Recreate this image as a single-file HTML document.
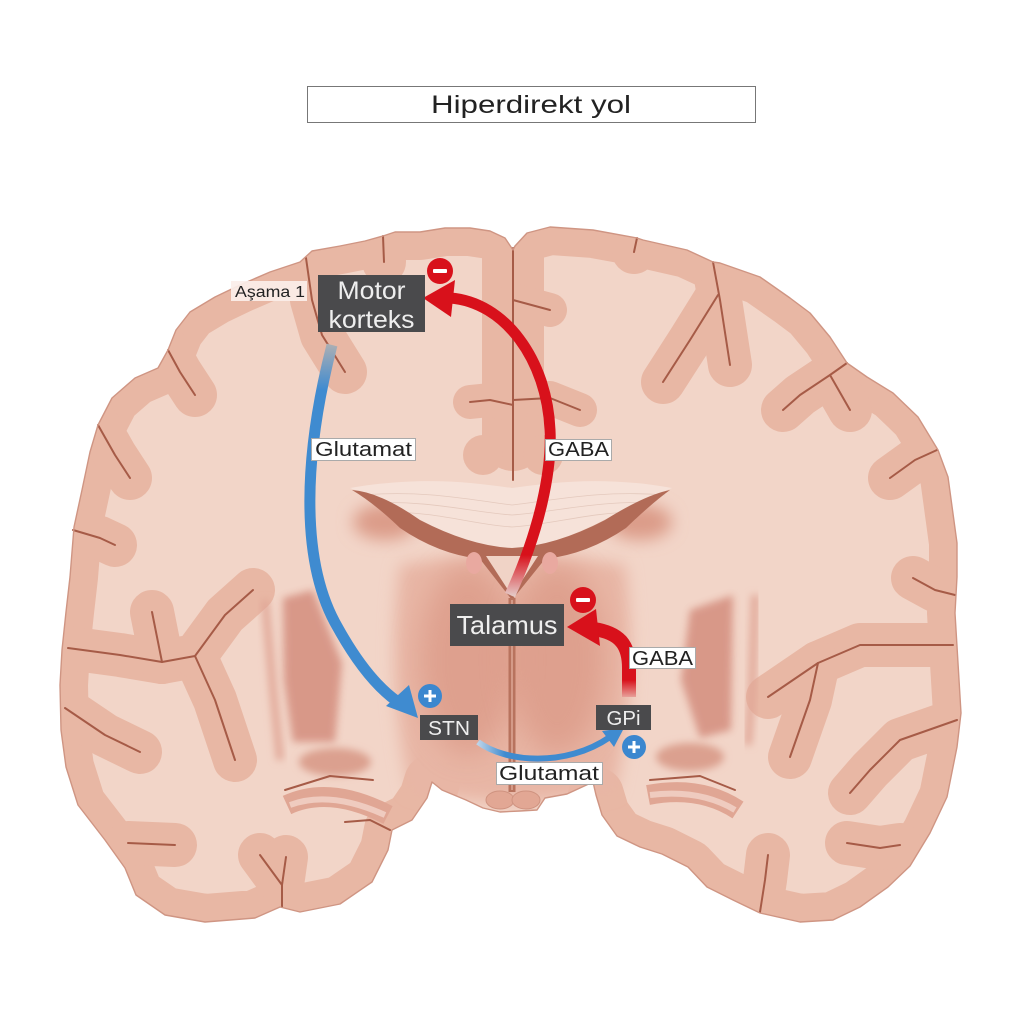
<!DOCTYPE html>
<html>
<head>
<meta charset="utf-8">
<style>
html,body{margin:0;padding:0;background:#fff;}
svg{display:block;}
text{font-family:"Liberation Sans",sans-serif;}
</style>
</head>
<body>
<svg width="1024" height="1024" viewBox="0 0 1024 1024" xmlns="http://www.w3.org/2000/svg">
<defs>
  <clipPath id="brain">
    <polygon id="outlineP" points="513,250 505,238 490,231 470,228 445,228 420,232 395,232 383,236 365,241 340,246 312,251 300,262 270,272 240,285 215,297 190,312 176,330 168,350 158,368 135,378 112,398 98,425 90,452 82,490 74,527 70,577 66,612 62,650 60,685 61,730 66,767 78,805 105,840 125,868 136,895 165,915 205,922 255,918 280,907 300,912 340,904 372,882 388,850 392,830 412,820 427,798 432,782 442,790 466,800 483,808 500,812 520,811 537,810 545,798 567,794 593,782 596,795 602,815 617,836 640,847 662,854 688,867 707,887 733,900 760,913 800,922 833,920 860,907 888,887 910,866 930,833 947,797 957,747 961,713 958,663 955,613 957,577 957,543 948,477 938,450 918,417 893,393 867,377 847,363 830,337 810,313 790,298 760,277 720,263 713,262 687,250 643,240 637,238 593,230 550,227 527,233 515,246"/>
  </clipPath>
  <filter id="b8" x="-50%" y="-50%" width="200%" height="200%"><feGaussianBlur stdDeviation="8"/></filter>
  <filter id="b4" x="-50%" y="-50%" width="200%" height="200%"><feGaussianBlur stdDeviation="4"/></filter>
  <filter id="b14" x="-50%" y="-50%" width="200%" height="200%"><feGaussianBlur stdDeviation="14"/></filter>
  <linearGradient id="redG" gradientUnits="userSpaceOnUse" x1="0" y1="600" x2="0" y2="555">
    <stop offset="0" stop-color="#e6dcd8"/>
    <stop offset="1" stop-color="#d8111b"/>
  </linearGradient>
  <linearGradient id="redG2" gradientUnits="userSpaceOnUse" x1="0" y1="698" x2="0" y2="680">
    <stop offset="0" stop-color="#e8a8a0"/>
    <stop offset="1" stop-color="#d8111b"/>
  </linearGradient>
  <linearGradient id="blueG" gradientUnits="userSpaceOnUse" x1="0" y1="345" x2="0" y2="390">
    <stop offset="0" stop-color="#a9aeb4"/>
    <stop offset="1" stop-color="#3f8bd0"/>
  </linearGradient>
  <linearGradient id="blueG2" gradientUnits="userSpaceOnUse" x1="478" y1="0" x2="505" y2="0">
    <stop offset="0" stop-color="#bcd3e8"/>
    <stop offset="1" stop-color="#3f8bd0"/>
  </linearGradient>
</defs>

<!-- Title -->
<rect x="307.5" y="86.5" width="448" height="36" fill="#fff" stroke="#777" stroke-width="1"/>
<text x="531" y="113" font-size="25" fill="#222" text-anchor="middle" textLength="200" lengthAdjust="spacingAndGlyphs">Hiperdirekt yol</text>

<!-- Brain base (white matter) -->
<use href="#outlineP" fill="#f2d5c8"/>

<g clip-path="url(#brain)">
  <!-- cortex band -->
  <g fill="none" stroke="#e8b7a4" stroke-linejoin="round" stroke-linecap="round">
    <polyline stroke-width="56" points="513,250 505,238 490,231 470,228 445,228 420,232 395,232 383,236 365,241 340,246 312,251 300,262 270,272 240,285 215,297 190,312 176,330 168,350 158,368 135,378 112,398 98,425 90,452 82,490 74,527 70,577 66,612 62,650 60,685 61,730 66,767 78,805 105,840 125,868 136,895 165,915 205,922 255,918 280,907 300,912 340,904 372,882 388,850 392,830 412,820 427,798 432,782"/>
    <polyline stroke-width="56" points="596,795 602,815 617,836 640,847 662,854 688,867 707,887 733,900 760,913 800,922 833,920 860,907 888,887 910,866 930,833 947,797 957,747 961,713 958,663 955,613 957,577 957,543 948,477 938,450 918,417 893,393 867,377 847,363 830,337 810,313 790,298 760,277 720,263 713,262 687,250 643,240 637,238 593,230 550,227 527,233 515,246"/>
    <polyline stroke-width="62" points="513,245 513,330 513,440"/>
    <circle cx="483" cy="455" r="20" fill="#e8b7a4" stroke="none"/>
    <circle cx="543" cy="455" r="20" fill="#e8b7a4" stroke="none"/>
    <g stroke-width="44">
      <polyline points="383,236 384,262"/>
      <polyline points="306,258 312,300 322,335 345,372"/>
      <polyline points="168,350 180,372 195,395"/>
      <polyline points="98,425 115,455 130,478"/>
      <polyline points="73,530 100,538 115,545"/>
      <polyline points="68,648 120,655 162,662 195,656 215,700 235,760"/>
      <polyline points="162,662 152,612"/>
      <polyline points="195,656 225,615 253,590"/>
      <polyline points="65,708 105,735 140,752"/>
      <polyline points="128,843 175,845"/>
      <polyline points="282,907 282,885 260,855"/>
      <polyline points="282,885 286,857"/>
      <polyline points="637,238 634,252"/>
      <polyline points="713,262 720,300 730,365"/>
      <polyline points="718,295 690,340 663,382"/>
      <polyline points="847,363 830,375 800,395 783,410"/>
      <polyline points="830,375 850,410"/>
      <polyline points="937,450 915,460 890,478"/>
      <polyline points="955,595 935,590 913,578"/>
      <polyline points="953,645 900,645 860,645 818,663 768,697"/>
      <polyline points="818,663 810,700 790,757"/>
      <polyline points="957,720 900,740 870,770 850,793"/>
      <polyline points="900,845 880,848 847,843"/>
      <polyline points="760,912 765,880 768,855"/>
      <polyline stroke-width="34" points="513,300 550,310"/>
      <polyline stroke-width="34" points="513,400 550,398 580,410"/>
      <polyline stroke-width="34" points="513,405 490,400 470,402"/>
    </g>
  </g>

  <!-- deep structures -->
  <path d="M400,565 Q512,545 625,565 Q640,680 615,790 Q512,815 410,790 Q385,680 400,565 Z" fill="#e8b6a5" filter="url(#b8)"/>
  <ellipse cx="468" cy="660" rx="48" ry="95" fill="#d8927f" opacity="0.6" filter="url(#b14)"/>
  <ellipse cx="557" cy="660" rx="48" ry="95" fill="#d8927f" opacity="0.6" filter="url(#b14)"/>
  <ellipse cx="385" cy="522" rx="32" ry="18" fill="#dc9c89" filter="url(#b8)"/>
  <ellipse cx="640" cy="522" rx="32" ry="18" fill="#dc9c89" filter="url(#b8)"/>
  <!-- putamen -->
  <polygon points="283,598 313,590 342,663 335,742 293,742 284,680" fill="#d69282" opacity="0.9" filter="url(#b4)"/>
  <polygon points="690,610 733,595 731,730 700,738 681,680" fill="#d69282" opacity="0.9" filter="url(#b4)"/>
  <polyline points="265,600 273,690 280,760" fill="none" stroke="#e0a595" stroke-width="7" filter="url(#b4)"/>
  <polyline points="755,595 752,690 748,745" fill="none" stroke="#e0a595" stroke-width="7" filter="url(#b4)"/>
  <!-- amygdala -->
  <ellipse cx="335" cy="762" rx="36" ry="14" fill="#dba08f" filter="url(#b4)"/>
  <ellipse cx="690" cy="757" rx="34" ry="14" fill="#dba08f" filter="url(#b4)"/>
  <!-- hippocampus -->
  <path d="M287,805 Q330,785 388,815" fill="none" stroke="#e0a694" stroke-width="20"/>
  <path d="M290,805 Q330,790 385,815" fill="none" stroke="#efcbbf" stroke-width="6"/>
  <path d="M648,795 Q700,785 738,810" fill="none" stroke="#e0a694" stroke-width="20"/>
  <path d="M650,795 Q700,789 735,810" fill="none" stroke="#efcbbf" stroke-width="6"/>
  <!-- corpus callosum -->
  <path d="M350,488 C420,476 470,482 512,488 C555,482 605,476 672,488 L640,502 C600,522 560,545 512,550 C465,545 420,522 385,502 Z" fill="#f6e2d9"/>
  <g fill="none" stroke="#e4c9bd" stroke-width="0.8">
    <path d="M360,495 C430,490 470,500 512,505 C555,500 600,490 665,495"/>
    <path d="M370,503 C430,500 470,512 512,515 C555,512 600,500 655,503"/>
    <path d="M385,512 C440,512 470,524 512,527 C555,524 590,512 640,512"/>
  </g>
  <!-- ventricles -->
  <path d="M352,490 Q380,492 420,520 Q470,546 512,548 Q555,546 605,520 Q645,495 670,490 Q652,503 626,528 Q588,554 545,559 L512,600 L480,559 Q438,554 400,528 Q374,503 352,490 Z" fill="#b26b57"/>
  <path d="M486,556 L538,556 L512,596 Z" fill="#f0d3c6"/>
  <ellipse cx="474" cy="563" rx="8" ry="11" fill="#e9a9a0"/>
  <ellipse cx="550" cy="563" rx="8" ry="11" fill="#e9a9a0"/>
  <!-- third ventricle -->
  <line x1="512" y1="598" x2="512" y2="792" stroke="#b8735e" stroke-width="7"/>
  <line x1="512" y1="600" x2="512" y2="790" stroke="#d49a88" stroke-width="2"/>
  <!-- mammillary lumps -->
  <ellipse cx="500" cy="800" rx="14" ry="9" fill="#e2a794" stroke="#cf9380" stroke-width="1"/>
  <ellipse cx="526" cy="800" rx="14" ry="9" fill="#e2a794" stroke="#cf9380" stroke-width="1"/>
</g>

<!-- sulci dark lines -->
<g fill="none" stroke="#a65b47" stroke-width="2" stroke-linejoin="round" stroke-linecap="round">
  <polyline points="383,236 384,262"/>
  <polyline points="306,258 312,300 322,335 345,372"/>
  <polyline points="168,350 180,372 195,395"/>
  <polyline points="98,425 115,455 130,478"/>
  <polyline points="73,530 100,538 115,545"/>
  <polyline points="68,648 120,655 162,662 195,656 215,700 235,760"/>
  <polyline points="162,662 152,612"/>
  <polyline points="195,656 225,615 253,590"/>
  <polyline points="65,708 105,735 140,752"/>
  <polyline points="128,843 175,845"/>
  <polyline points="282,907 282,885 260,855"/>
  <polyline points="282,885 286,857"/>
  <polyline points="285,790 330,776 373,780"/>
  <polyline points="345,822 370,820 390,830"/>
  <polyline points="637,238 634,252"/>
  <polyline points="713,262 720,300 730,365"/>
  <polyline points="718,295 690,340 663,382"/>
  <polyline points="847,363 830,375 800,395 783,410"/>
  <polyline points="830,375 850,410"/>
  <polyline points="937,450 915,460 890,478"/>
  <polyline points="955,595 935,590 913,578"/>
  <polyline points="953,645 900,645 860,645 818,663 768,697"/>
  <polyline points="818,663 810,700 790,757"/>
  <polyline points="957,720 900,740 870,770 850,793"/>
  <polyline points="900,845 880,848 847,843"/>
  <polyline points="760,912 765,880 768,855"/>
  <polyline points="650,780 700,776 735,790"/>
  <polyline points="513,248 513,480"/>
  <polyline points="513,300 550,310"/>
  <polyline points="513,400 550,398 580,410"/>
  <polyline points="513,405 490,400 470,402"/>
</g>
<use href="#outlineP" fill="none" stroke="#cf9583" stroke-width="1.4" stroke-linejoin="round"/>

<!-- Red arrow: Talamus -> Motor korteks -->
<path d="M510,595 C540,530 552,470 550,430 C547,360 505,302 450,298" fill="none" stroke="url(#redG)" stroke-width="11"/>
<polygon points="423,298 455,280 451,317" fill="#d8111b"/>

<!-- Blue arrow: Motor korteks -> STN -->
<path d="M332,345 C305,450 298,560 338,628 C358,664 378,688 398,702" fill="none" stroke="url(#blueG)" stroke-width="11"/>
<polygon points="418,718 386,706 409,685" fill="#3f8bd0"/>

<!-- Red small arrow: GPi -> Talamus -->
<path d="M629,697 L629,668 C629,645 620,633 594,629" fill="none" stroke="url(#redG2)" stroke-width="14"/>
<polygon points="567,627 596,609 600,646" fill="#d8111b"/>

<!-- Blue small arrow: STN -> GPi -->
<path d="M478,742 C505,762 565,768 610,737" fill="none" stroke="url(#blueG2)" stroke-width="6"/>
<polygon points="624,728 602,731 614,747" fill="#3f8bd0"/>

<!-- Labels -->
<rect x="231" y="281" width="76" height="20" fill="#fbeee9" opacity="0.92"/>
<text x="235" y="297" font-size="16" fill="#222" textLength="70" lengthAdjust="spacingAndGlyphs">Aşama 1</text>

<rect x="318" y="275" width="107" height="57" fill="#4a4a4c"/>
<text x="371.5" y="299" font-size="25" fill="#eeeeee" text-anchor="middle" textLength="68" lengthAdjust="spacingAndGlyphs">Motor</text>
<text x="371.5" y="328" font-size="25" fill="#eeeeee" text-anchor="middle" textLength="86" lengthAdjust="spacingAndGlyphs">korteks</text>

<rect x="311.5" y="438.5" width="104" height="22" fill="#fff" stroke="#aaa" stroke-width="1"/>
<text x="315" y="456" font-size="20" fill="#222" textLength="97" lengthAdjust="spacingAndGlyphs">Glutamat</text>

<rect x="545.5" y="439.5" width="66" height="21" fill="#fff" stroke="#aaa" stroke-width="1"/>
<text x="548" y="456" font-size="20" fill="#222" textLength="61" lengthAdjust="spacingAndGlyphs">GABA</text>

<rect x="450" y="604" width="114" height="42" fill="#4a4a4c"/>
<text x="507" y="634" font-size="26" fill="#eeeeee" text-anchor="middle" textLength="101" lengthAdjust="spacingAndGlyphs">Talamus</text>

<rect x="629.5" y="647.5" width="66" height="21" fill="#fff" stroke="#aaa" stroke-width="1"/>
<text x="632" y="665" font-size="20" fill="#222" textLength="61" lengthAdjust="spacingAndGlyphs">GABA</text>

<rect x="596" y="705" width="55" height="25" fill="#4a4a4c"/>
<text x="623.5" y="725" font-size="20" fill="#eeeeee" text-anchor="middle" textLength="34" lengthAdjust="spacingAndGlyphs">GPi</text>

<rect x="420" y="715" width="58" height="25" fill="#4a4a4c"/>
<text x="449" y="735" font-size="20" fill="#eeeeee" text-anchor="middle" textLength="42" lengthAdjust="spacingAndGlyphs">STN</text>

<rect x="496.5" y="762.5" width="106" height="22" fill="#fff" stroke="#aaa" stroke-width="1"/>
<text x="499" y="780" font-size="20" fill="#222" textLength="100" lengthAdjust="spacingAndGlyphs">Glutamat</text>

<!-- Signs -->
<circle cx="440" cy="271" r="13" fill="#d8111b"/>
<rect x="433" y="269" width="14" height="4" rx="1" fill="#fff"/>
<circle cx="583" cy="600" r="13" fill="#d8111b"/>
<rect x="576" y="598" width="14" height="4" rx="1" fill="#fff"/>

<circle cx="430" cy="696" r="12" fill="#3b87cf"/>
<rect x="424" y="694.5" width="12" height="3" fill="#fff"/>
<rect x="428.5" y="690" width="3" height="12" fill="#fff"/>
<circle cx="634" cy="747" r="12" fill="#3b87cf"/>
<rect x="628" y="745.5" width="12" height="3" fill="#fff"/>
<rect x="632.5" y="741" width="3" height="12" fill="#fff"/>
</svg>
</body>
</html>
